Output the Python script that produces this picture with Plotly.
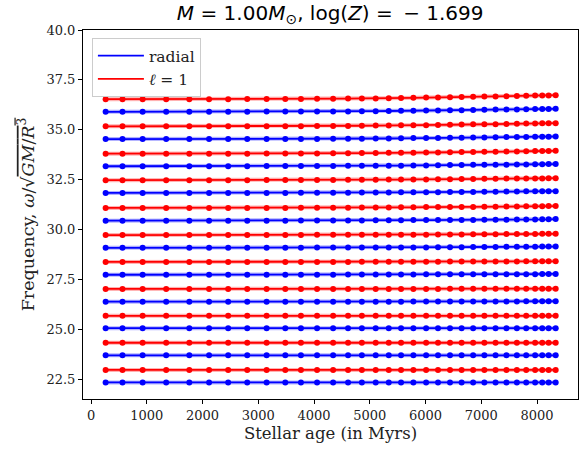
import plotly.graph_objects as go

# stellar ages of the track models (Myr)
ages = [261, 563, 925, 1347, 1762, 2117, 2459, 2801, 3149, 3484, 3765,
        4054, 4342, 4610, 4858, 5106, 5340, 5561, 5782, 6010, 6224, 6439,
        6647, 6854, 7055, 7256, 7451, 7638, 7806, 7966, 8094, 8208, 8335]

# radial modes, lowest to highest
radial = [
    [22.33, 22.33, 22.33, 22.33, 22.33, 22.33, 22.33, 22.33, 22.33, 22.33, 22.33,
     22.33, 22.33, 22.33, 22.33, 22.33, 22.33, 22.33, 22.33, 22.33, 22.33, 22.33,
     22.33, 22.33, 22.33, 22.33, 22.33, 22.33, 22.33, 22.33, 22.33, 22.33, 22.33],
    [23.69, 23.69, 23.69, 23.69, 23.69, 23.69, 23.69, 23.69, 23.69, 23.69, 23.69,
     23.69, 23.69, 23.69, 23.69, 23.69, 23.69, 23.69, 23.69, 23.69, 23.69, 23.69,
     23.69, 23.69, 23.69, 23.69, 23.69, 23.69, 23.69, 23.69, 23.69, 23.69, 23.69],
    [25.05, 25.05, 25.05, 25.05, 25.05, 25.05, 25.05, 25.05, 25.05, 25.05, 25.05,
     25.05, 25.05, 25.05, 25.05, 25.05, 25.05, 25.05, 25.05, 25.05, 25.05, 25.05,
     25.05, 25.05, 25.05, 25.05, 25.05, 25.05, 25.05, 25.05, 25.05, 25.05, 25.05],
    [26.38, 26.38, 26.38, 26.38, 26.38, 26.38, 26.38, 26.38, 26.38, 26.38, 26.38,
     26.38, 26.38, 26.38, 26.38, 26.38, 26.38, 26.38, 26.39, 26.39, 26.39, 26.39,
     26.39, 26.39, 26.39, 26.39, 26.39, 26.39, 26.40, 26.40, 26.40, 26.40, 26.40],
    [27.73, 27.73, 27.73, 27.73, 27.73, 27.73, 27.73, 27.73, 27.73, 27.73, 27.73,
     27.73, 27.73, 27.74, 27.74, 27.74, 27.74, 27.74, 27.74, 27.75, 27.75, 27.75,
     27.75, 27.75, 27.75, 27.76, 27.76, 27.76, 27.76, 27.76, 27.77, 27.77, 27.77],
    [29.08, 29.08, 29.08, 29.08, 29.08, 29.08, 29.08, 29.08, 29.08, 29.08, 29.08,
     29.09, 29.09, 29.09, 29.09, 29.09, 29.10, 29.10, 29.10, 29.10, 29.11, 29.11,
     29.11, 29.12, 29.12, 29.12, 29.13, 29.13, 29.13, 29.13, 29.14, 29.14, 29.14],
    [30.44, 30.44, 30.44, 30.44, 30.44, 30.44, 30.44, 30.44, 30.44, 30.44, 30.45,
     30.45, 30.45, 30.45, 30.45, 30.46, 30.46, 30.46, 30.47, 30.47, 30.47, 30.48,
     30.48, 30.48, 30.49, 30.49, 30.49, 30.50, 30.50, 30.50, 30.51, 30.51, 30.52],
    [31.83, 31.83, 31.83, 31.83, 31.83, 31.83, 31.83, 31.83, 31.83, 31.83, 31.84,
     31.84, 31.84, 31.84, 31.85, 31.85, 31.85, 31.86, 31.86, 31.87, 31.87, 31.88,
     31.88, 31.88, 31.89, 31.89, 31.90, 31.90, 31.91, 31.91, 31.91, 31.92, 31.92],
    [33.17, 33.17, 33.17, 33.17, 33.17, 33.17, 33.17, 33.17, 33.18, 33.18, 33.18,
     33.18, 33.18, 33.19, 33.19, 33.19, 33.20, 33.20, 33.21, 33.21, 33.22, 33.23,
     33.23, 33.24, 33.24, 33.25, 33.25, 33.26, 33.26, 33.27, 33.27, 33.28, 33.28],
    [34.53, 34.53, 34.53, 34.53, 34.53, 34.53, 34.53, 34.53, 34.54, 34.54, 34.54,
     34.54, 34.55, 34.55, 34.55, 34.56, 34.56, 34.57, 34.58, 34.58, 34.59, 34.60,
     34.60, 34.61, 34.61, 34.62, 34.63, 34.63, 34.64, 34.65, 34.65, 34.65, 34.66],
    [35.90, 35.90, 35.90, 35.90, 35.90, 35.90, 35.90, 35.90, 35.91, 35.91, 35.91,
     35.92, 35.92, 35.92, 35.93, 35.93, 35.94, 35.95, 35.95, 35.96, 35.97, 35.98,
     35.98, 35.99, 36.00, 36.01, 36.01, 36.02, 36.03, 36.04, 36.04, 36.04, 36.05],
]

# l=1 modes, lowest to highest
dipole = [
    [22.96, 22.96, 22.96, 22.96, 22.96, 22.96, 22.96, 22.96, 22.96, 22.96, 22.96,
     22.96, 22.96, 22.96, 22.96, 22.96, 22.96, 22.96, 22.96, 22.96, 22.96, 22.96,
     22.96, 22.96, 22.96, 22.96, 22.96, 22.96, 22.96, 22.96, 22.96, 22.96, 22.96],
    [24.32, 24.32, 24.32, 24.32, 24.32, 24.32, 24.32, 24.32, 24.32, 24.32, 24.32,
     24.32, 24.32, 24.32, 24.32, 24.32, 24.32, 24.32, 24.32, 24.32, 24.32, 24.32,
     24.32, 24.32, 24.32, 24.32, 24.32, 24.32, 24.32, 24.32, 24.32, 24.32, 24.32],
    [25.67, 25.67, 25.67, 25.67, 25.67, 25.67, 25.67, 25.67, 25.67, 25.67, 25.67,
     25.67, 25.67, 25.67, 25.67, 25.67, 25.67, 25.67, 25.67, 25.67, 25.67, 25.67,
     25.67, 25.67, 25.67, 25.67, 25.67, 25.67, 25.67, 25.67, 25.67, 25.67, 25.67],
    [27.02, 27.02, 27.02, 27.02, 27.02, 27.02, 27.02, 27.02, 27.02, 27.02, 27.02,
     27.02, 27.02, 27.02, 27.02, 27.02, 27.02, 27.02, 27.02, 27.02, 27.02, 27.03,
     27.03, 27.03, 27.03, 27.03, 27.03, 27.03, 27.03, 27.03, 27.03, 27.03, 27.03],
    [28.37, 28.37, 28.37, 28.37, 28.37, 28.37, 28.37, 28.37, 28.37, 28.37, 28.37,
     28.37, 28.37, 28.37, 28.38, 28.38, 28.38, 28.38, 28.38, 28.38, 28.38, 28.39,
     28.39, 28.39, 28.39, 28.39, 28.39, 28.39, 28.40, 28.40, 28.40, 28.40, 28.40],
    [29.72, 29.72, 29.72, 29.72, 29.72, 29.72, 29.72, 29.72, 29.72, 29.72, 29.72,
     29.73, 29.73, 29.73, 29.73, 29.73, 29.74, 29.74, 29.74, 29.74, 29.75, 29.75,
     29.75, 29.76, 29.76, 29.76, 29.77, 29.77, 29.77, 29.77, 29.78, 29.78, 29.78],
    [31.08, 31.08, 31.08, 31.08, 31.08, 31.08, 31.08, 31.08, 31.08, 31.08, 31.09,
     31.09, 31.09, 31.09, 31.10, 31.10, 31.10, 31.11, 31.11, 31.12, 31.12, 31.13,
     31.13, 31.13, 31.14, 31.14, 31.15, 31.15, 31.16, 31.16, 31.16, 31.17, 31.17],
    [32.47, 32.47, 32.47, 32.47, 32.47, 32.47, 32.47, 32.47, 32.48, 32.48, 32.48,
     32.48, 32.48, 32.49, 32.49, 32.49, 32.50, 32.50, 32.51, 32.51, 32.52, 32.52,
     32.53, 32.53, 32.54, 32.54, 32.55, 32.55, 32.56, 32.56, 32.56, 32.57, 32.57],
    [33.80, 33.80, 33.80, 33.80, 33.80, 33.80, 33.80, 33.80, 33.81, 33.81, 33.81,
     33.81, 33.82, 33.82, 33.83, 33.83, 33.84, 33.84, 33.85, 33.86, 33.86, 33.87,
     33.88, 33.88, 33.89, 33.90, 33.91, 33.91, 33.92, 33.93, 33.93, 33.93, 33.94],
    [35.17, 35.17, 35.17, 35.17, 35.17, 35.17, 35.17, 35.17, 35.18, 35.18, 35.18,
     35.19, 35.19, 35.19, 35.20, 35.21, 35.21, 35.22, 35.23, 35.23, 35.24, 35.25,
     35.26, 35.27, 35.27, 35.28, 35.29, 35.30, 35.31, 35.31, 35.32, 35.32, 35.33],
    [36.53, 36.53, 36.53, 36.53, 36.53, 36.53, 36.53, 36.54, 36.54, 36.54, 36.54,
     36.55, 36.55, 36.56, 36.57, 36.57, 36.58, 36.59, 36.60, 36.61, 36.62, 36.63,
     36.64, 36.65, 36.66, 36.67, 36.68, 36.69, 36.70, 36.71, 36.72, 36.72, 36.73],
]

xticks = [0, 1000, 2000, 3000, 4000, 5000, 6000, 7000, 8000]
yticks = [22.5, 25.0, 27.5, 30.0, 32.5, 35.0, 37.5, 40.0]

BLUE = "#0000ff"
RED = "#ff0000"
SERIF = "DejaVu Serif"
SANS = "DejaVu Sans"

fig = go.Figure()

def add_mode(y, color):
    # faint halo under the line, like the reference
    fig.add_trace(go.Scatter(x=ages, y=y, mode="lines", showlegend=False, hoverinfo="skip",
                             line=dict(color=color, width=4), opacity=0.3))
    fig.add_trace(go.Scatter(x=ages, y=y, mode="lines+markers", showlegend=False,
                             line=dict(color=color, width=1.8),
                             marker=dict(color=color, size=6)))

for y in radial:
    add_mode(y, BLUE)
for y in dipole:
    add_mode(y, RED)

# legend entries only show the line
fig.add_trace(go.Scatter(x=[None], y=[None], mode="lines", name="radial",
                         line=dict(color=BLUE, width=1.8)))
fig.add_trace(go.Scatter(x=[None], y=[None], mode="lines", name="<i>ℓ</i> = 1",
                         line=dict(color=RED, width=1.8)))

axis_style = dict(showline=True, mirror=True, linecolor="black", linewidth=1,
                  ticks="outside", ticklen=4, tickcolor="black", showgrid=False,
                  zeroline=False, automargin=False,
                  tickfont=dict(family=SERIF, size=13, color="#222"))

fig.update_layout(
    width=587, height=450,
    margin=dict(l=83, r=9, t=30, b=51),
    paper_bgcolor="white", plot_bgcolor="white",
    title=dict(text="<i>M</i> = 1.00<i>M</i><sub>⊙</sub>, log(<i>Z</i>) = \u2009− 1.699",
               x=0.5625, xanchor="center", y=0.972, yanchor="middle",
               font=dict(family=SANS, size=20, color="black")),
    xaxis=dict(range=[-145, 8735], tickvals=xticks, **axis_style,
               title=dict(text="Stellar age (in Myrs)", standoff=5,
                          font=dict(family=SERIF, size=16.5, color="#222"))),
    yaxis=dict(range=[21.5, 40.0], tickvals=yticks, tickformat=".1f", **axis_style,
               title=dict(text="Frequency, <i>ω</i>/√<span style='text-decoration:overline'><i>GM</i>/<i>R</i><sup>3</sup></span>",
                          standoff=7, font=dict(family=SERIF, size=17.5, color="#222"))),
    legend=dict(x=0.018, y=0.978, xanchor="left", yanchor="top", itemwidth=46,
                bgcolor="white", bordercolor="#cccccc", borderwidth=1,
                font=dict(family=SERIF, size=15.5, color="#222")),
)

# the page's default body margin would shift the figure by 8px
fig.write_html("out.html", config={"displayModeBar": False},
               post_script="document.body.style.margin='0';")
